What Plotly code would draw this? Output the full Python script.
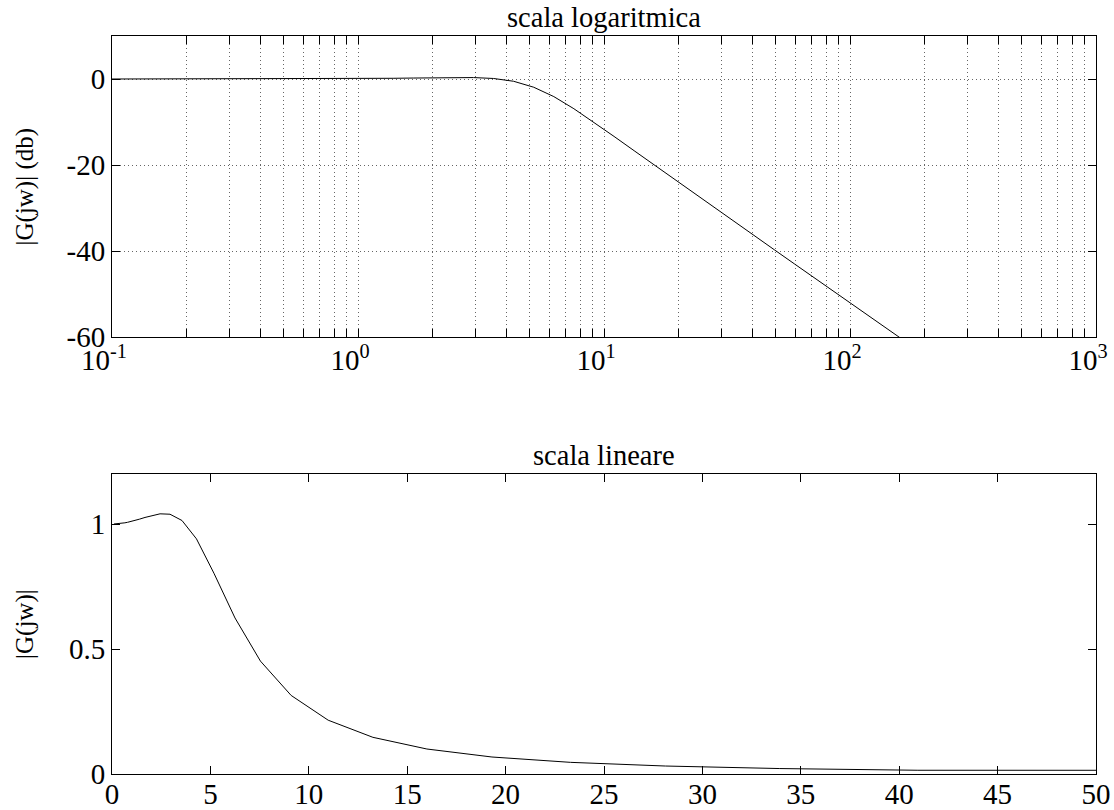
import plotly.graph_objects as go
from plotly.subplots import make_subplots

# frequency samples (rad/s) (log spaced)
W = [0.1, 0.1207, 0.1456, 0.1758, 0.2121, 0.2560, 0.3089, 0.3728, 0.4498, 0.5429,
     0.6551, 0.7906, 0.9541, 1.1514, 1.3895, 1.6768, 2.0236, 2.4421, 2.9471, 3.5565,
     4.2919, 5.1795, 6.2506, 7.5431, 9.1030, 10.985, 13.257, 15.999, 19.307, 23.300,
     28.118, 33.932, 40.949, 49.417, 59.636, 71.969, 86.851, 104.81, 126.49, 152.64,
     184.21, 222.30, 268.27, 323.75, 390.69, 471.49, 568.99, 686.65, 828.64, 1000.0]

# |G(jw)| in dB
MAG_DB = [0.001, 0.001, 0.002, 0.003, 0.004, 0.006, 0.009, 0.014, 0.019, 0.028,
          0.041, 0.059, 0.084, 0.118, 0.165, 0.225, 0.292, 0.347, 0.333, 0.121,
          -0.53, -1.91, -4.09, -6.91, -10.06, -13.35, -16.67, -20.00, -23.34, -26.63,
          -29.93, -33.21, -36.50, -39.77, -43.05, -46.32, -49.58, -52.85, -56.12, -59.39,
          -62.65, -65.92, -69.18, -72.45, -75.72, -78.98, -82.25, -85.51, -88.78, -92.04]

# |G(jw)| linear
MAG = [1.0001, 1.0002, 1.0002, 1.0004, 1.0005, 1.0007, 1.0011, 1.0016, 1.0022, 1.0033,
       1.0047, 1.0068, 1.0097, 1.0137, 1.0192, 1.0262, 1.0341, 1.0407, 1.0391, 1.0140,
       0.9406, 0.8031, 0.6241, 0.4515, 0.3142, 0.2152, 0.1467, 0.1000, 0.0680, 0.0466,
       0.0319, 0.0218, 0.0150, 0.0103, 0.0070, 0.0048, 0.0033, 0.0023, 0.0016, 0.0011,
       0.0007, 0.0005, 0.0003, 0.0002, 0.0002, 0.0001, 0.0001, 0.0001, 0.0000, 0.0000]

LOG_TICKS = [0.1, 1, 10, 100, 1000]
LOG_TICK_TEXT = ["10<sup>-1</sup>", "10<sup>0</sup>", "10<sup>1</sup>", "10<sup>2</sup>", "10<sup>3</sup>"]
DB_TICKS = [-60, -40, -20, 0]
DB_TICK_TEXT = ["-60", "-40", "-20", "0"]
LIN_X_TICKS = list(range(0, 55, 5))
LIN_Y_TICKS = [0, 0.5, 1]
LIN_Y_TEXT = ["0", "0.5", "1"]

FONT = "Liberation Serif"
FS = 29

fig = make_subplots(rows=2, cols=1)

fig.add_trace(go.Scatter(x=W, y=MAG_DB, mode="lines",
                         line=dict(color="black", width=1), showlegend=False),
              row=1, col=1)
fig.add_trace(go.Scatter(x=W, y=MAG, mode="lines",
                         line=dict(color="black", width=1), showlegend=False),
              row=2, col=1)

minor_vals = [m * 10 ** e for e in range(-1, 3) for m in range(2, 10)]
GRID = dict(showgrid=True, gridcolor="#666", griddash="1px,3px", gridwidth=1)

axis_common = dict(showline=True, linecolor="black", linewidth=1, mirror="ticks",
                   ticks="inside", ticklen=8, tickcolor="black", zeroline=False,
                   automargin=False, ticklabeloverflow="allow",
                   tickfont=dict(family=FONT, size=FS, color="black"))

fig.update_xaxes(type="log", range=[-1, 3], tickvals=LOG_TICKS, ticktext=LOG_TICK_TEXT,
                 minor=dict(tickvals=minor_vals, ticks="inside", ticklen=8, tickcolor="black",
                            **GRID),
                 ticklabelstandoff=-3, ticklabelshift=-8,
                 domain=[0, 1], **GRID, **axis_common, row=1, col=1)
fig.update_yaxes(range=[-60, 10], tickvals=DB_TICKS, ticktext=DB_TICK_TEXT,
                 domain=[0.5921, 1.0], **GRID, **axis_common, row=1, col=1)

fig.update_xaxes(range=[0, 50], tickvals=LIN_X_TICKS, showgrid=False,
                 ticklabelstandoff=-6,
                 domain=[0, 1], **axis_common, row=2, col=1)
fig.update_yaxes(range=[0, 1.2], tickvals=LIN_Y_TICKS, ticktext=LIN_Y_TEXT, showgrid=False,
                 domain=[0, 0.4065], **axis_common, row=2, col=1)

# titles and y labels
for ax, title, ylab in [("", "scala logaritmica", "|G(jw)| (db)"),
                        ("2", "scala lineare", "|G(jw)|")]:
    fig.add_annotation(text=title, xref="x%s domain" % ax, yref="y%s domain" % ax,
                       x=0.5, y=1, xanchor="center", yanchor="bottom", yshift=1,
                       showarrow=False, font=dict(family=FONT, size=28.5, color="black"))
    fig.add_annotation(text=ylab, xref="x%s domain" % ax, yref="y%s domain" % ax,
                       x=0, y=0.5, xanchor="center", yanchor="middle", xshift=-87,
                       textangle=-90, showarrow=False,
                       font=dict(family=FONT, size=25, color="black"))

fig.update_layout(width=1114, height=810, plot_bgcolor="white", paper_bgcolor="white",
                  margin=dict(l=112, r=18, t=36, b=36),
                  font=dict(family=FONT, size=FS, color="black"))

# drop the default 8px body margin so the figure fills the window exactly
fig.write_html("out.html", config={"displayModeBar": False},
               post_script="document.body.style.margin='0px';")
